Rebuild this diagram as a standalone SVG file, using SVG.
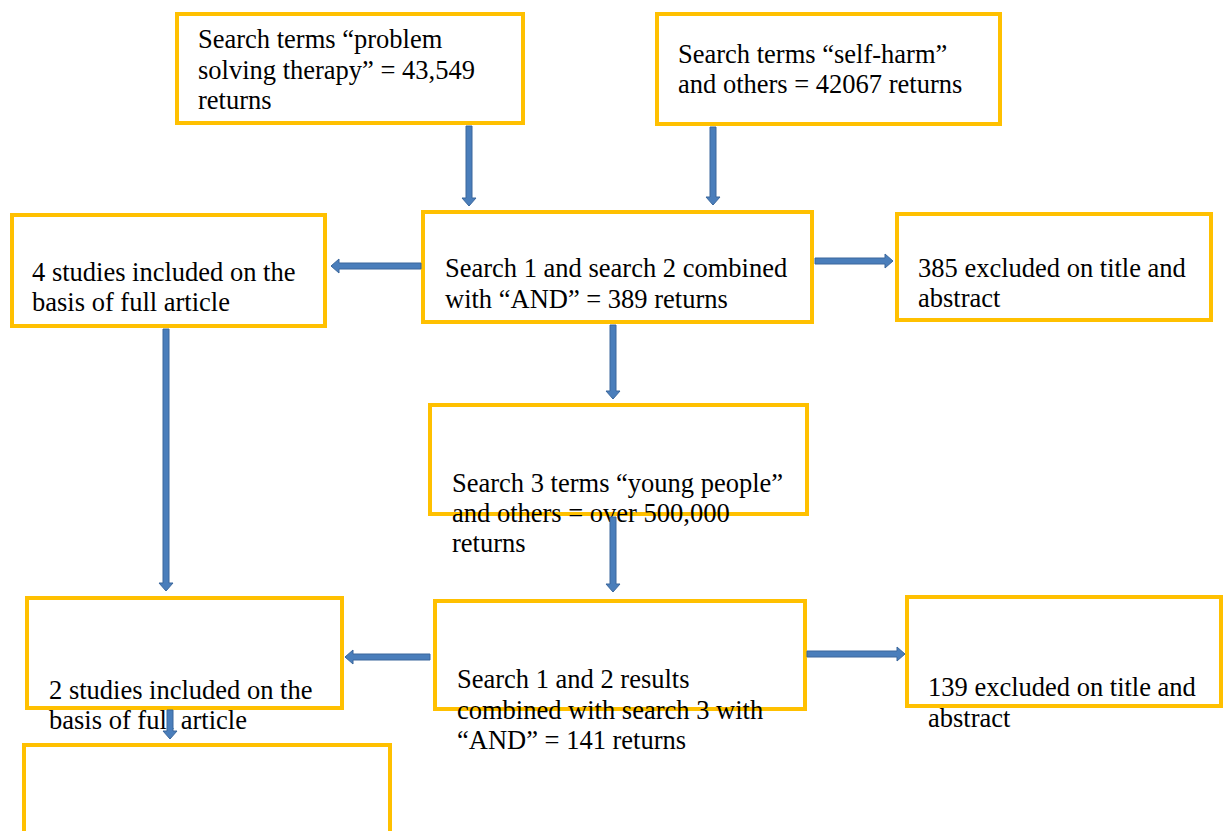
<svg xmlns="http://www.w3.org/2000/svg" width="1223" height="831" viewBox="0 0 1223 831" font-family="'Liberation Serif', 'DejaVu Serif', 'Times New Roman', Times, serif">
<style>
.box{fill:#fff;stroke:#FFC000;stroke-width:4}
.edge{fill:none;stroke:#D0D0D0;stroke-width:1}
text{font-family:'Liberation Serif','DejaVu Serif','Times New Roman',Times,serif;font-size:26.5px;fill:#000}
.arr{fill:#4A7EBB;stroke:#3A679C;stroke-width:1}
</style>
<rect width="1223" height="831" fill="#fff"/>
<g id="n1"><rect class="box" x="177" y="14" width="346" height="109"/>
<text><tspan x="198" y="48">Search terms “problem</tspan><tspan x="198" y="79">solving therapy” = 43,549</tspan><tspan x="198" y="109">returns</tspan></text></g>
<g id="n2"><rect class="box" x="657" y="14" width="343" height="110"/>
<text><tspan x="678" y="63">Search terms “self-harm”</tspan><tspan x="678" y="93">and others = 42067 returns</tspan></text></g>
<g id="n3"><rect class="box" x="423" y="212" width="389" height="110"/>
<text><tspan x="445" y="277">Search 1 and search 2 combined</tspan><tspan x="445" y="308">with “AND” = 389 returns</tspan></text></g>
<g id="n4"><rect class="box" x="12" y="215" width="313" height="111"/>
<text><tspan x="32" y="281">4 studies included on the</tspan><tspan x="32" y="311">basis of full article</tspan></text></g>
<g id="n5"><rect class="box" x="897" y="214" width="314" height="106"/>
<text><tspan x="918" y="277">385 excluded on title and</tspan><tspan x="918" y="307">abstract</tspan></text></g>
<g id="n6"><rect class="box" x="430" y="405" width="377" height="109"/>
<text><tspan x="452" y="492">Search 3 terms “young people”</tspan><tspan x="452" y="522">and others = over 500,000</tspan><tspan x="452" y="552">returns</tspan></text></g>
<g id="n7"><rect class="box" x="435" y="601" width="370" height="108"/>
<text><tspan x="457" y="688">Search 1 and 2 results</tspan><tspan x="457" y="719">combined with search 3 with</tspan><tspan x="457" y="749">“AND” = 141 returns</tspan></text></g>
<g id="n8"><rect class="box" x="907" y="597" width="314" height="109"/>
<text><tspan x="928" y="696">139 excluded on title and</tspan><tspan x="928" y="727">abstract</tspan></text></g>
<g id="n9"><rect class="box" x="27" y="598" width="315" height="110"/>
<text><tspan x="49" y="699">2 studies included on the</tspan><tspan x="49" y="729">basis of full article</tspan></text></g>
<g id="n10"><rect class="box" x="24" y="745" width="366" height="100"/></g>
<g id="connectors">
<path class="arr" d="M466,126 H472 V198 H476 L469,206 L462,198 H466 Z"/>
<path class="arr" d="M710,127 H716 V197 H720 L713,205 L706,197 H710 Z"/>
<path class="arr" d="M421,263 V269 H339 V273 L331,266 L339,259 V263 Z"/>
<path class="arr" d="M815,258 V264 H885 V268 L893,261 L885,254 V258 Z"/>
<path class="arr" d="M610,325 H616 V391 H620 L613,399 L606,391 H610 Z"/>
<path class="arr" d="M610,517 H616 V584 H620 L613,592 L606,584 H610 Z"/>
<path class="arr" d="M807,651 V657 H897 V661 L905,654 L897,647 V651 Z"/>
<path class="arr" d="M430,654 V660 H353 V664 L345,657 L353,650 V654 Z"/>
<path class="arr" d="M167,710 H173 V731 H177 L170,739 L163,731 H167 Z"/>
<path class="arr" d="M163,329 H169 V583 H173 L166,591 L159,583 H163 Z"/>
</g>
</svg>
